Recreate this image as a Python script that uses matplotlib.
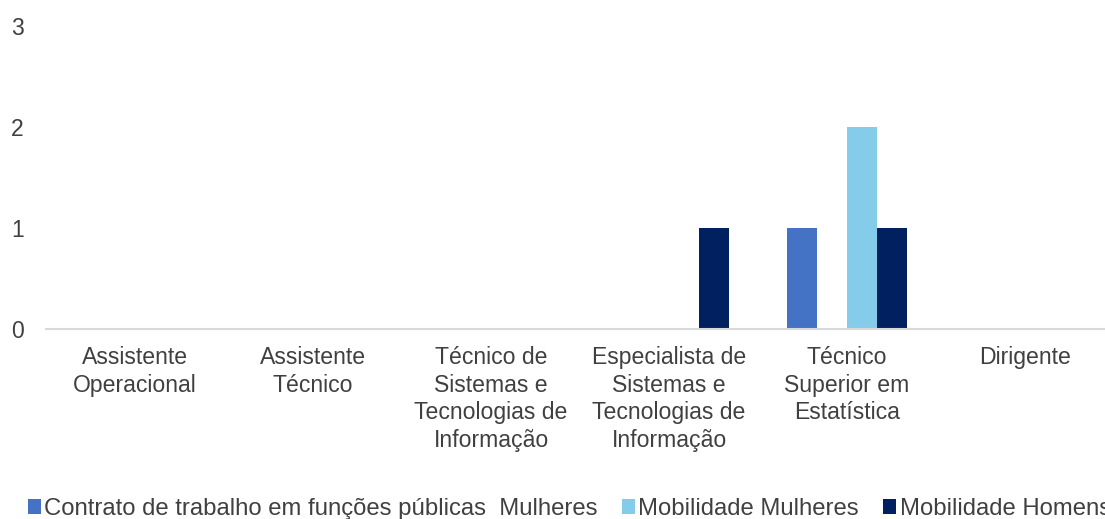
import matplotlib
matplotlib.use("Agg")
import matplotlib.pyplot as plt
import numpy as np

categories = ["Assistente\nOperacional", "Assistente\nTécnico",
              "Técnico de\nSistemas e\nTecnologias de\nInformação",
              "Especialista de\nSistemas e\nTecnologias de\nInformação",
              "Técnico\nSuperior em\nEstatística", "Dirigente"]
contrato_mulheres = [0, 0, 0, 0, 1, 0]
contrato_homens = [0, 0, 0, 0, 0, 0]
mobilidade_mulheres = [0, 0, 0, 0, 2, 0]
mobilidade_homens = [0, 0, 0, 1, 1, 0]

series = [
    ("Contrato de trabalho em funções públicas  Mulheres", contrato_mulheres, "#4472C4"),
    ("_nolegend_", contrato_homens, "#A5A5A5"),
    ("Mobilidade Mulheres", mobilidade_mulheres, "#85CCEB"),
    ("Mobilidade Homens", mobilidade_homens, "#002060"),
]

plt.rcParams['font.family'] = ['Liberation Sans', 'DejaVu Sans']
txt = "#404040"

fig = plt.figure(figsize=(11.05, 5.19), dpi=100)
W, H = 1105, 519
left, right = 46, 1114
bottom, top = 329, 26
ax = fig.add_axes([left / W, (H - bottom) / H, (right - left) / W, (bottom - top) / H])

x = np.arange(len(categories))
bw = 30 / 178
for i, (lab, vals, col) in enumerate(series):
    ax.bar(x + (i - 1.5) * bw, vals, width=bw, color=col, label=lab, zorder=2)

ax.set_xlim(-0.5, len(categories) - 0.5)
ax.set_ylim(0, 3)
ax.set_yticks([0, 1, 2, 3])
ax.set_xticks(x)
ax.set_xticklabels(categories, fontsize=16.6, color=txt, linespacing=1.27)
ax.tick_params(axis='x', length=0, pad=12)
ax.tick_params(axis='y', length=0, pad=16, labelsize=16.5, labelcolor=txt)
for s in ['top', 'right', 'left']:
    ax.spines[s].set_visible(False)
ax.spines['bottom'].set_color('#D9D9D9')
ax.spines['bottom'].set_linewidth(1.5)
ax.spines['bottom'].set_zorder(3)

handles, labels = ax.get_legend_handles_labels()
fig.legend(handles, labels, loc='lower left', bbox_to_anchor=(18 / W, -0.02),
           ncol=3, frameon=False, fontsize=17.2, labelcolor=txt,
           handlelength=0.55, handleheight=0.55, handletextpad=0.15, columnspacing=1.0,
           borderaxespad=0)

fig.savefig("out.png", dpi=100)
